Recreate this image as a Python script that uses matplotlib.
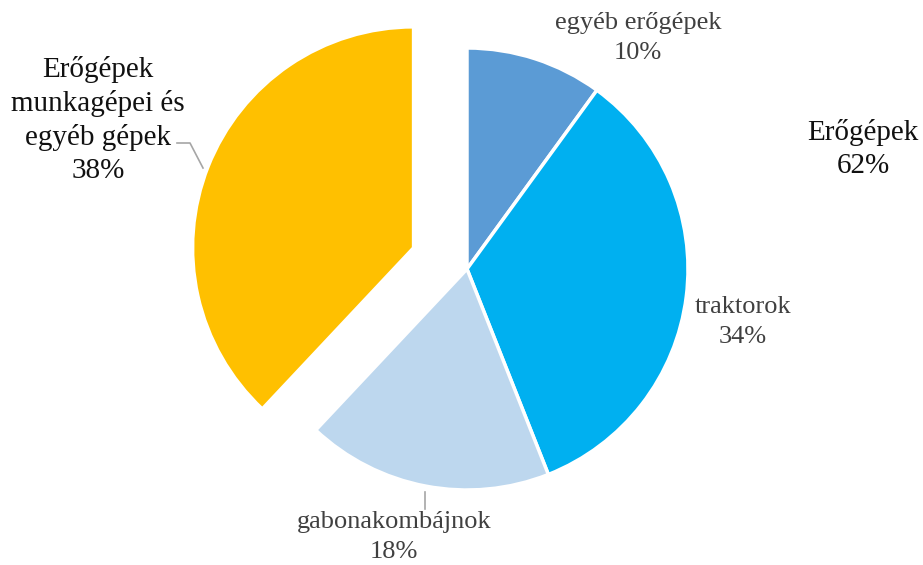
import matplotlib
matplotlib.use("Agg")
import matplotlib.pyplot as plt

categories = ["egyéb erőgépek", "traktorok", "gabonakombájnok",
              "Erőgépek\nmunkagépei és\negyéb gépek"]
values = [10, 34, 18, 38]
colors = ["#5B9BD5", "#00B0F0", "#BDD7EE", "#FFC000"]
explode_frac = [0, 0, 0, 0.26]
group_label = "Erőgépek"
group_value = 62

W, H = 923, 565
fig = plt.figure(figsize=(W / 100, H / 100), dpi=100)
ax = fig.add_axes([0, 0, 1, 1])
ax.set_xlim(0, W)
ax.set_ylim(0, H)
ax.set_aspect("equal")
ax.axis("off")

cx, cy, r = 467, H - 269, 221
ax.pie(values, colors=colors, startangle=90, counterclock=False,
       explode=[e * r for e in explode_frac], center=(cx, cy), radius=r,
       wedgeprops=dict(edgecolor="white", linewidth=2.5))
ax.set_xlim(0, W)
ax.set_ylim(0, H)

serif = ["Liberation Serif", "DejaVu Serif"]
small = dict(fontsize=19, color="#404040", ha="center", va="center",
             family=serif, linespacing=1.42)
big = dict(fontsize=21, color="#111111", ha="center", va="center",
           family=serif, linespacing=1.35)

def P(x, y):
    return (x, H - y)

ax.text(*P(638, 38), f"{categories[0]}\n{values[0]}%", **small)
ax.text(*P(743, 322), f"{categories[1]}\n{values[1]}%", **small)
ax.text(*P(394, 537), f"{categories[2]}\n{values[2]}%", **small)
ax.text(*P(98, 120), f"{categories[3]}\n{values[3]}%", **big)
ax.text(*P(863, 149), f"{group_label}\n{group_value}%", **big)

# leader lines
lx = [425, 425]
ly = [492, 509]
ax.plot(lx, [H - v for v in ly], color="#A6A6A6", lw=1.2)
lx2 = [177, 190, 203]
ly2 = [143, 143, 168]
ax.plot(lx2, [H - v for v in ly2], color="#A6A6A6", lw=1.2)

fig.savefig("out.png", dpi=100)
